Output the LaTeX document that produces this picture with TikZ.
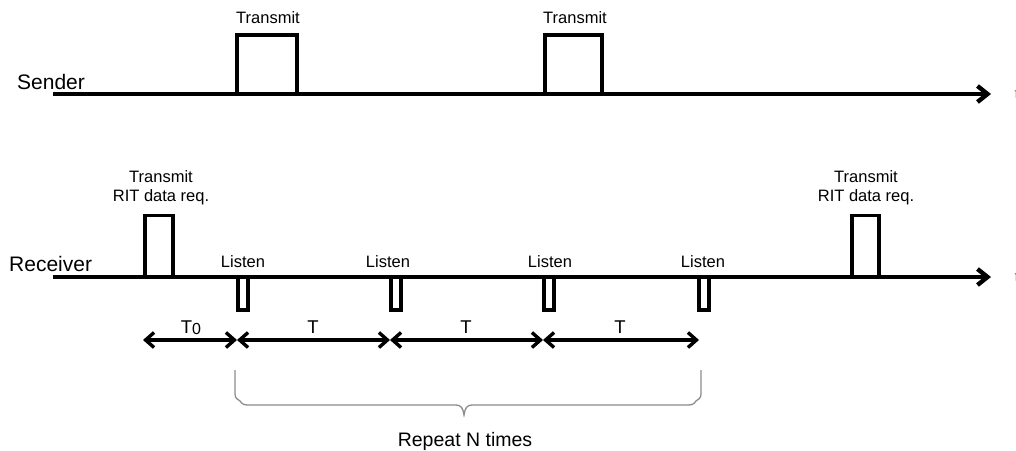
\documentclass[tikz,border=0pt]{standalone}
\usepackage{fontspec}
\setmainfont{Liberation Sans}
\usetikzlibrary{arrows.meta}
\begin{document}
\begin{tikzpicture}[x=1pt,y=-1pt,
  axis/.style={line width=4.4pt,-{Straight Barb[length=10pt,width=16pt]}},
  pulse/.style={line width=3.4pt,line join=miter},
  span/.style={line width=3.4pt,
    {Straight Barb[length=8.5pt,width=15pt]}-{Straight Barb[length=8.5pt,width=15pt]}},
  brace/.style={line width=1.3pt,draw=black!45},
  lane/.style={inner sep=0pt,font=\fontsize{21}{24}\selectfont},
  small/.style={inner sep=0pt,font=\fontsize{16.5}{19}\selectfont},
  dim/.style={inner sep=0pt,font=\fontsize{18.5}{21}\selectfont},
]
\useasboundingbox (0,0) rectangle (1016,450);

% time axes
\coordinate (s0) at (53,94);   \coordinate (s1) at (991,94);
\coordinate (r0) at (53,277);  \coordinate (r1) at (991,277);
\draw[axis] (s0) -- (s1);
\draw[axis] (r0) -- (r1);
\node[lane,anchor=base west] (sender) at (17,89) {Sender};
\node[lane,anchor=base west] (receiver) at (9,271) {Receiver};
\node[small,anchor=base west,text=orange!70!black] (ts) at (1014.5,99) {t};
\node[small,anchor=base west,text=orange!70!black] (tr) at (1014.5,282) {t};

% sender transmissions
\draw[pulse] (237,94) -- (237,35) -- (297,35) -- (297,94);
\draw[pulse] (545,94) -- (545,35) -- (602,35) -- (602,94);
\node[small,anchor=base] (tx1) at (268,23) {Transmit};
\node[small,anchor=base] (tx2) at (575,23) {Transmit};

% receiver RIT data requests
\draw[pulse] (145,277) -- (145,215.5) -- (173,215.5) -- (173,277);
\draw[pulse] (852,277) -- (852,215.5) -- (879,215.5) -- (879,277);
\node[small,anchor=base] (rit1) at (161,182) {Transmit};
\node[small,anchor=base] (rit1b) at (161,201) {RIT data req.};
\node[small,anchor=base] (rit2) at (866,182) {Transmit};
\node[small,anchor=base] (rit2b) at (866,201) {RIT data req.};

% listen windows
\foreach \x in {238,391,544,699}{
  \draw[pulse] (\x,277) -- (\x,310) -- (\x+10,310) -- (\x+10,277);
}
\node[small,anchor=base] (l1) at (243,267) {Listen};
\node[small,anchor=base] (l2) at (388,267) {Listen};
\node[small,anchor=base] (l3) at (550,267) {Listen};
\node[small,anchor=base] (l4) at (703,267) {Listen};

% intervals
\coordinate (d0) at (143,340);
\coordinate (d1) at (237,340);
\coordinate (d2) at (390,340);
\coordinate (d3) at (543,340);
\coordinate (d4) at (699,340);
\draw[span] (d0) -- (d1);
\draw[span] (d1) -- (d2);
\draw[span] (d2) -- (d3);
\draw[span] (d3) -- (d4);
\node[dim,anchor=base] (t0) at (191,333) {T\raisebox{-1pt}{\fontsize{16}{16}\selectfont 0}};
\node[dim,anchor=base] (t1) at (313,333) {T};
\node[dim,anchor=base] (t2) at (466,333) {T};
\node[dim,anchor=base] (t3) at (620,333) {T};

% repetition brace
\coordinate (bl) at (235,370);
\coordinate (br) at (701,370);
\coordinate (bt) at (464,415);
\draw[brace] (bl) -- (235,394) .. controls (235,399) and (238,399) .. (240,401)
  .. controls (242,404) and (244,405) .. (248,405) -- (456,405)
  .. controls (461,405) and (463,408) .. (bt)
  .. controls (465,408) and (467,405) .. (472,405) -- (688,405)
  .. controls (692,405) and (694,404) .. (696,401)
  .. controls (698,399) and (701,399) .. (701,394) -- (br);
\node[lane,font=\fontsize{19.5}{22}\selectfont,anchor=base] (rep) at (465,446) {Repeat N times};
\end{tikzpicture}
\end{document}
